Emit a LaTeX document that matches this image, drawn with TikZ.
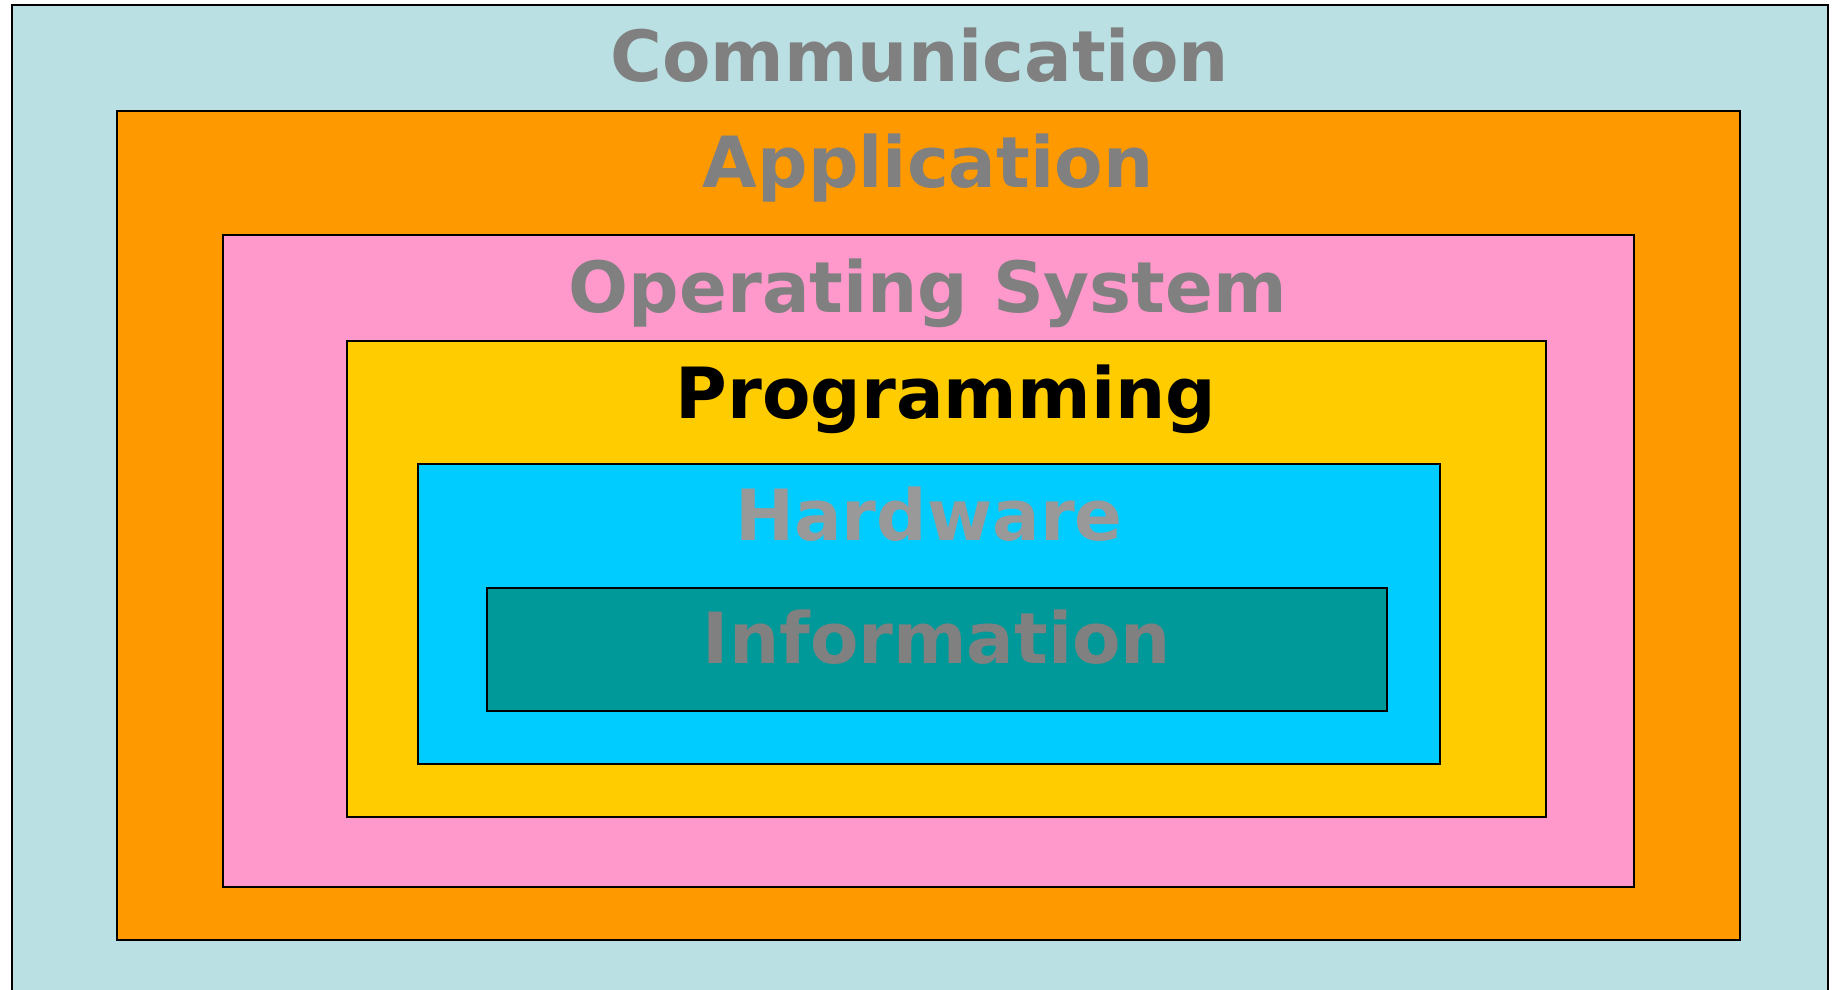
\documentclass[tikz,border=0pt]{standalone}
\usepackage{fontspec}
\setmainfont{DejaVu Sans}
\definecolor{commblue}{RGB}{187,224,227}
\definecolor{apporange}{RGB}{255,153,0}
\definecolor{ospink}{RGB}{255,153,204}
\definecolor{progyellow}{RGB}{255,204,0}
\definecolor{hwcyan}{RGB}{0,204,255}
\definecolor{infoteal}{RGB}{0,153,153}
\tikzset{
  layer/.style={draw=black, line width=1pt},
  lbl/.style={anchor=base, inner sep=0pt, text=gray,
    font=\fontsize{35.3}{36}\selectfont\bfseries}
}
\begin{document}
\begin{tikzpicture}[x=0.5pt,y=-0.5pt]
\useasboundingbox (0,0) rectangle (1832,990);
% nested layers, outermost first
\draw[layer, fill=commblue]   (11.5,5)    rectangle (1827.5,1000);
\draw[layer, fill=apporange]  (117,111)   rectangle (1739.5,940);
\draw[layer, fill=ospink]     (223,234.5) rectangle (1634,887);
\draw[layer, fill=progyellow] (347,341)   rectangle (1545.5,816.5);
\draw[layer, fill=hwcyan]     (417.5,464) rectangle (1440,763.5);
\draw[layer, fill=infoteal]   (487,587.5) rectangle (1386.5,711);
% layer names, centred near each top edge
\node[lbl] (comm) at (919.5,82)  {Communication};
\node[lbl] (app)  at (928,187)   {Application};
\node[lbl] (os)   at (928,312)   {Operating System};
\node[lbl, text=black] (prog) at (946,418) {Programming};
\node[lbl, text=gray!80] (hw) at (929,540) {Hardware};
\node[lbl] (info) at (937,663)   {Information};
\end{tikzpicture}
\end{document}
